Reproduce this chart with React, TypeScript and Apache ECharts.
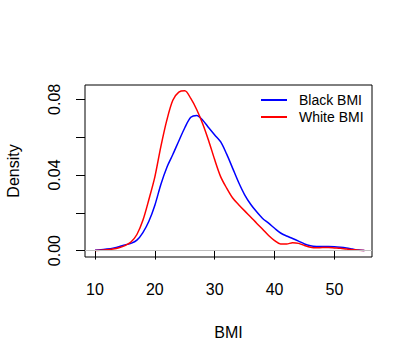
import React, { useEffect, useRef } from "react";
import * as echarts from "echarts";

const bmi = [10, 11, 12, 13, 14, 15, 16, 17, 18, 19, 20, 21, 22, 23, 24, 25, 26, 27, 28, 29, 30, 31, 32, 33, 34, 35, 36, 37, 38, 39, 40, 41, 42, 43, 44, 45, 46, 47, 48, 49, 50, 51, 52, 53, 54, 55];
const blackDensity = [0.0002, 0.0004, 0.0008, 0.0013, 0.002, 0.003, 0.0038, 0.0055, 0.0095, 0.0155, 0.024, 0.035, 0.044, 0.0508, 0.058, 0.065, 0.0705, 0.0715, 0.069, 0.065, 0.0612, 0.0575, 0.051, 0.0435, 0.036, 0.0295, 0.0245, 0.0205, 0.017, 0.0145, 0.0118, 0.0093, 0.0077, 0.0064, 0.005, 0.0035, 0.0026, 0.0022, 0.0021, 0.0021, 0.002, 0.0017, 0.0013, 0.0008, 0.0003, 0.0001];
const whiteDensity = [0.0001, 0.0002, 0.0004, 0.0008, 0.0015, 0.0026, 0.0045, 0.0085, 0.016, 0.027, 0.039, 0.055, 0.069, 0.0795, 0.0838, 0.0845, 0.0805, 0.0745, 0.067, 0.058, 0.048, 0.039, 0.033, 0.0278, 0.0243, 0.021, 0.0178, 0.0145, 0.0113, 0.008, 0.0053, 0.0035, 0.0035, 0.0041, 0.0038, 0.0027, 0.0018, 0.0015, 0.0016, 0.0016, 0.0014, 0.0012, 0.0008, 0.0005, 0.0002, 0.0001];
const xTicks = [10, 20, 30, 40, 50];
const yTicks = [0, 0.02, 0.04, 0.06, 0.08];
const yLabels = [0, 0.04, 0.08];
const seriesNames = ["Black BMI", "White BMI"];

const FONT = "Liberation Sans, Arial, Helvetica, sans-serif";

export default function App() {
  const ref = useRef<HTMLDivElement>(null);
  useEffect(() => {
    document.body.style.margin = "0";
    const chart = echarts.init(ref.current!, null, { renderer: "svg" });
    chart.setOption({
      animation: false,
      backgroundColor: "#fff",
      textStyle: { fontFamily: FONT },
      grid: {
        left: 85,
        top: 85,
        width: 287,
        height: 172,
        containLabel: false,
        outerBoundsMode: "none",
        show: true,
        borderColor: "#000",
        borderWidth: 1,
        backgroundColor: "transparent",
      },
      legend: {
        orient: "vertical",
        left: 261,
        top: 92,
        padding: 0,
        itemWidth: 26,
        itemHeight: 2,
        itemGap: 1,
        icon: "rect",
        data: seriesNames,
        textStyle: { fontSize: 14, color: "#000", lineHeight: 16, padding: [0, 0, 0, 7], fontFamily: FONT },
      },
      xAxis: {
        type: "value",
        min: 8.33,
        max: 56.27,
        name: "BMI",
        nameLocation: "middle",
        nameGap: 67,
        nameTextStyle: { fontSize: 16, color: "#000", fontFamily: FONT },
        axisLine: { show: false },
        splitLine: { show: false },
        axisTick: { show: true, length: 9, customValues: xTicks, lineStyle: { color: "#000" } },
        axisLabel: { customValues: xTicks, fontSize: 16, color: "#000", margin: 24, fontFamily: FONT },
      },
      yAxis: {
        type: "value",
        min: -0.0034,
        max: 0.0876,
        name: "Density",
        nameLocation: "middle",
        nameGap: 64,
        nameTextStyle: { fontSize: 16, color: "#000", fontFamily: FONT },
        axisLine: { show: false },
        splitLine: { show: false },
        axisTick: { show: true, length: 9, customValues: yTicks, lineStyle: { color: "#000" } },
        axisLabel: {
          customValues: yLabels,
          rotate: 90,
          fontSize: 16,
          color: "#000",
          margin: 23,
          fontFamily: FONT,
          formatter: (v: number) => v.toFixed(2),
        },
      },
      series: [
        {
          name: seriesNames[0],
          type: "line",
          data: bmi.map((x, i) => [x, blackDensity[i]]),
          smooth: 0.3,
          symbol: "none",
          lineStyle: { color: "#0000ff", width: 1.5 },
          itemStyle: { color: "#0000ff" },
          markLine: {
            silent: true,
            symbol: "none",
            label: { show: false },
            lineStyle: { color: "#bebebe", width: 1, type: "solid" },
            data: [{ yAxis: 0 }],
          },
          z: 2,
        },
        {
          name: seriesNames[1],
          type: "line",
          data: bmi.map((x, i) => [x, whiteDensity[i]]),
          smooth: 0.3,
          symbol: "none",
          lineStyle: { color: "#ff0000", width: 1.5 },
          itemStyle: { color: "#ff0000" },
          z: 3,
        },
      ],
    });
    return () => chart.dispose();
  }, []);
  return <div ref={ref} style={{ width: 415, height: 363 }} />;
}
